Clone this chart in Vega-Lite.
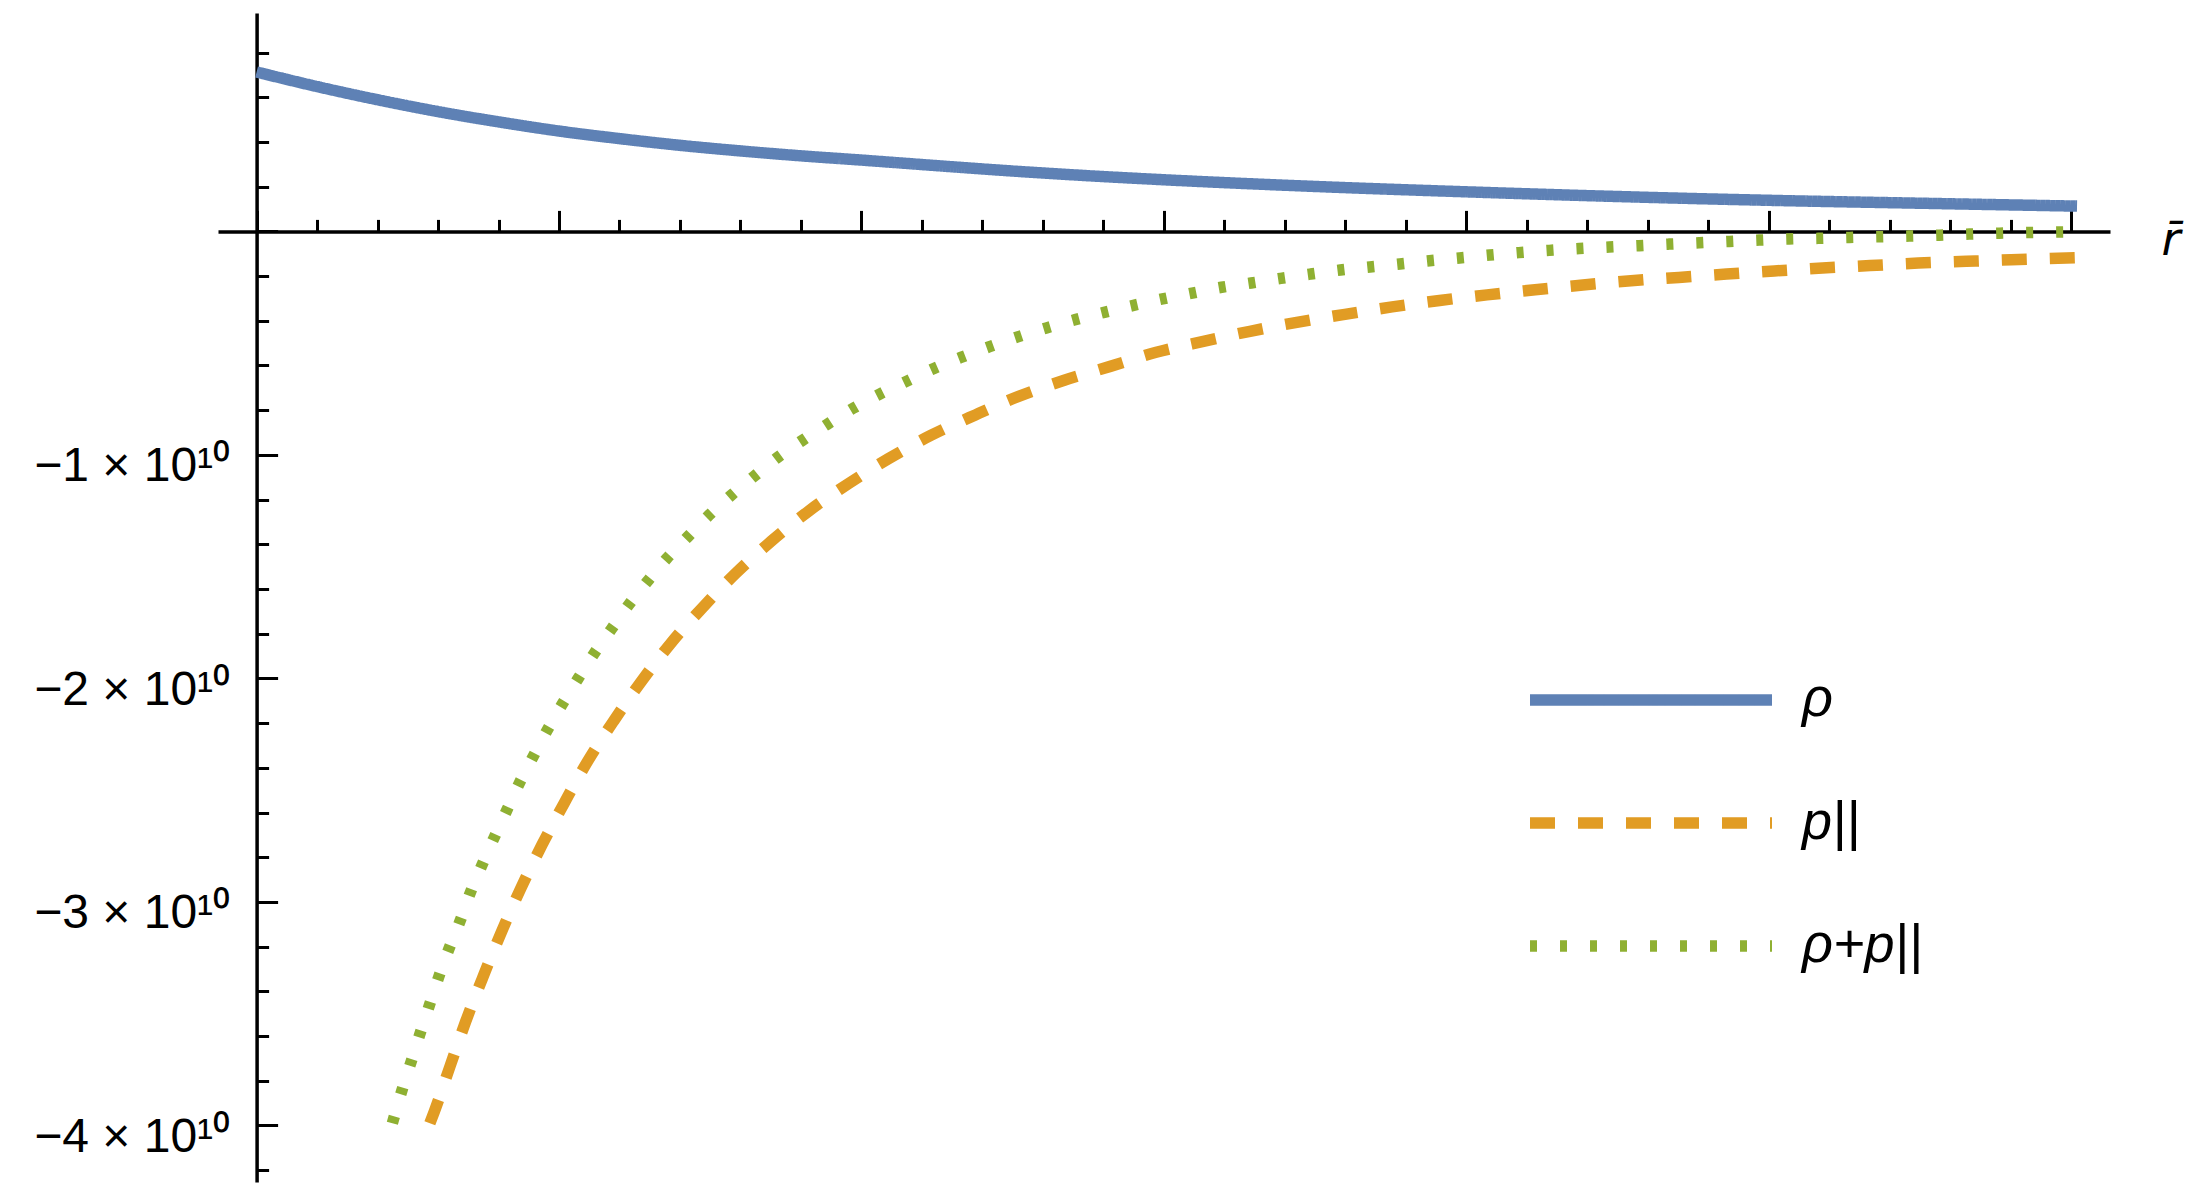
{
  "$schema": "https://vega.github.io/schema/vega-lite/v6.json",
  "width": 1892,
  "height": 1169,
  "autosize": {"type": "none"},
  "padding": {"left": 218, "top": 13, "right": 97, "bottom": 18},
  "background": "white",
  "config": {"view": {"stroke": null}, "font": "Liberation Sans"},
  "data": {"values": [
    {"series": "ρ", "r": 0, "value": 7.13e9},
    {"series": "ρ", "r": 0.2, "value": 6.48e9},
    {"series": "ρ", "r": 0.4, "value": 5.89e9},
    {"series": "ρ", "r": 0.6, "value": 5.36e9},
    {"series": "ρ", "r": 0.8, "value": 4.9e9},
    {"series": "ρ", "r": 1.0, "value": 4.49e9},
    {"series": "ρ", "r": 1.2, "value": 4.15e9},
    {"series": "ρ", "r": 1.4, "value": 3.85e9},
    {"series": "ρ", "r": 1.6, "value": 3.6e9},
    {"series": "ρ", "r": 1.8, "value": 3.38e9},
    {"series": "ρ", "r": 2.0, "value": 3.19e9},
    {"series": "ρ", "r": 2.25, "value": 2.94e9},
    {"series": "ρ", "r": 2.5, "value": 2.7e9},
    {"series": "ρ", "r": 2.75, "value": 2.49e9},
    {"series": "ρ", "r": 3.0, "value": 2.31e9},
    {"series": "ρ", "r": 3.5, "value": 2.01e9},
    {"series": "ρ", "r": 4.0, "value": 1.77e9},
    {"series": "ρ", "r": 4.5, "value": 1.56e9},
    {"series": "ρ", "r": 5.0, "value": 1.39e9},
    {"series": "ρ", "r": 5.5, "value": 1.26e9},
    {"series": "ρ", "r": 6.02, "value": 1.13e9},

    {"series": "p||", "r": 0.573, "value": -3.99e10},
    {"series": "p||", "r": 0.588, "value": -3.937e10},
    {"series": "p||", "r": 0.640, "value": -3.734e10},
    {"series": "p||", "r": 0.692, "value": -3.533e10},
    {"series": "p||", "r": 0.750, "value": -3.331e10},
    {"series": "p||", "r": 0.810, "value": -3.133e10},
    {"series": "p||", "r": 0.874, "value": -2.938e10},
    {"series": "p||", "r": 0.944, "value": -2.744e10},
    {"series": "p||", "r": 1.018, "value": -2.556e10},
    {"series": "p||", "r": 1.096, "value": -2.368e10},
    {"series": "p||", "r": 1.182, "value": -2.188e10},
    {"series": "p||", "r": 1.273, "value": -2.012e10},
    {"series": "p||", "r": 1.369, "value": -1.844e10},
    {"series": "p||", "r": 1.474, "value": -1.684e10},
    {"series": "p||", "r": 1.586, "value": -1.528e10},
    {"series": "p||", "r": 1.703, "value": -1.385e10},
    {"series": "p||", "r": 1.827, "value": -1.25e10},
    {"series": "p||", "r": 1.958, "value": -1.128e10},
    {"series": "p||", "r": 2.092, "value": -1.015e10},
    {"series": "p||", "r": 2.231, "value": -9.12e9},
    {"series": "p||", "r": 2.377, "value": -8.21e9},
    {"series": "p||", "r": 2.522, "value": -7.37e9},
    {"series": "p||", "r": 2.671, "value": -6.66e9},
    {"series": "p||", "r": 2.823, "value": -6.04e9},
    {"series": "p||", "r": 2.975, "value": -5.41e9},
    {"series": "p||", "r": 3.131, "value": -4.92e9},
    {"series": "p||", "r": 3.285, "value": -4.47e9},
    {"series": "p||", "r": 3.440, "value": -4.07e9},
    {"series": "p||", "r": 3.599, "value": -3.71e9},
    {"series": "p||", "r": 3.755, "value": -3.38e9},
    {"series": "p||", "r": 3.912, "value": -3.09e9},
    {"series": "p||", "r": 4.069, "value": -2.84e9},
    {"series": "p||", "r": 4.228, "value": -2.61e9},
    {"series": "p||", "r": 4.386, "value": -2.4e9},
    {"series": "p||", "r": 4.545, "value": -2.21e9},
    {"series": "p||", "r": 4.703, "value": -2.06e9},
    {"series": "p||", "r": 4.861, "value": -1.91e9},
    {"series": "p||", "r": 5.019, "value": -1.77e9},
    {"series": "p||", "r": 5.178, "value": -1.64e9},
    {"series": "p||", "r": 5.336, "value": -1.53e9},
    {"series": "p||", "r": 5.495, "value": -1.42e9},
    {"series": "p||", "r": 5.654, "value": -1.34e9},
    {"series": "p||", "r": 5.802, "value": -1.27e9},
    {"series": "p||", "r": 6.02, "value": -1.18e9},

    {"series": "ρ+p||", "r": 0.449, "value": -3.99e10},
    {"series": "ρ+p||", "r": 0.480, "value": -3.846e10},
    {"series": "ρ+p||", "r": 0.510, "value": -3.719e10},
    {"series": "ρ+p||", "r": 0.540, "value": -3.591e10},
    {"series": "ρ+p||", "r": 0.571, "value": -3.464e10},
    {"series": "ρ+p||", "r": 0.602, "value": -3.337e10},
    {"series": "ρ+p||", "r": 0.636, "value": -3.21e10},
    {"series": "ρ+p||", "r": 0.673, "value": -3.085e10},
    {"series": "ρ+p||", "r": 0.706, "value": -2.961e10},
    {"series": "ρ+p||", "r": 0.745, "value": -2.836e10},
    {"series": "ρ+p||", "r": 0.785, "value": -2.714e10},
    {"series": "ρ+p||", "r": 0.827, "value": -2.591e10},
    {"series": "ρ+p||", "r": 0.868, "value": -2.471e10},
    {"series": "ρ+p||", "r": 0.914, "value": -2.351e10},
    {"series": "ρ+p||", "r": 0.960, "value": -2.234e10},
    {"series": "ρ+p||", "r": 1.010, "value": -2.117e10},
    {"series": "ρ+p||", "r": 1.063, "value": -2.001e10},
    {"series": "ρ+p||", "r": 1.116, "value": -1.889e10},
    {"series": "ρ+p||", "r": 1.173, "value": -1.78e10},
    {"series": "ρ+p||", "r": 1.231, "value": -1.67e10},
    {"series": "ρ+p||", "r": 1.293, "value": -1.565e10},
    {"series": "ρ+p||", "r": 1.356, "value": -1.464e10},
    {"series": "ρ+p||", "r": 1.425, "value": -1.368e10},
    {"series": "ρ+p||", "r": 1.496, "value": -1.27e10},
    {"series": "ρ+p||", "r": 1.569, "value": -1.181e10},
    {"series": "ρ+p||", "r": 1.645, "value": -1.096e10},
    {"series": "ρ+p||", "r": 1.722, "value": -1.012e10},
    {"series": "ρ+p||", "r": 1.805, "value": -9.35e9},
    {"series": "ρ+p||", "r": 1.887, "value": -8.63e9},
    {"series": "ρ+p||", "r": 1.972, "value": -7.92e9},
    {"series": "ρ+p||", "r": 2.059, "value": -7.29e9},
    {"series": "ρ+p||", "r": 2.149, "value": -6.71e9},
    {"series": "ρ+p||", "r": 2.240, "value": -6.13e9},
    {"series": "ρ+p||", "r": 2.329, "value": -5.64e9},
    {"series": "ρ+p||", "r": 2.424, "value": -5.16e9},
    {"series": "ρ+p||", "r": 2.517, "value": -4.72e9},
    {"series": "ρ+p||", "r": 2.612, "value": -4.32e9},
    {"series": "ρ+p||", "r": 2.707, "value": -3.95e9},
    {"series": "ρ+p||", "r": 2.803, "value": -3.62e9},
    {"series": "ρ+p||", "r": 2.900, "value": -3.31e9},
    {"series": "ρ+p||", "r": 2.996, "value": -3.02e9},
    {"series": "ρ+p||", "r": 3.094, "value": -2.76e9},
    {"series": "ρ+p||", "r": 3.191, "value": -2.5e9},
    {"series": "ρ+p||", "r": 3.289, "value": -2.31e9},
    {"series": "ρ+p||", "r": 3.387, "value": -2.1e9},
    {"series": "ρ+p||", "r": 3.486, "value": -1.91e9},
    {"series": "ρ+p||", "r": 3.584, "value": -1.73e9},
    {"series": "ρ+p||", "r": 3.682, "value": -1.59e9},
    {"series": "ρ+p||", "r": 3.781, "value": -1.46e9},
    {"series": "ρ+p||", "r": 3.879, "value": -1.31e9},
    {"series": "ρ+p||", "r": 3.978, "value": -1.19e9},
    {"series": "ρ+p||", "r": 4.078, "value": -1.06e9},
    {"series": "ρ+p||", "r": 4.174, "value": -9.5e8},
    {"series": "ρ+p||", "r": 4.275, "value": -8.5e8},
    {"series": "ρ+p||", "r": 4.374, "value": -7.7e8},
    {"series": "ρ+p||", "r": 4.473, "value": -7.0e8},
    {"series": "ρ+p||", "r": 4.572, "value": -6.4e8},
    {"series": "ρ+p||", "r": 4.671, "value": -5.7e8},
    {"series": "ρ+p||", "r": 4.771, "value": -5.1e8},
    {"series": "ρ+p||", "r": 4.870, "value": -4.5e8},
    {"series": "ρ+p||", "r": 4.969, "value": -3.9e8},
    {"series": "ρ+p||", "r": 5.068, "value": -3.4e8},
    {"series": "ρ+p||", "r": 5.168, "value": -3.1e8},
    {"series": "ρ+p||", "r": 5.267, "value": -2.7e8},
    {"series": "ρ+p||", "r": 5.366, "value": -2.4e8},
    {"series": "ρ+p||", "r": 5.465, "value": -2.1e8},
    {"series": "ρ+p||", "r": 5.564, "value": -1.7e8},
    {"series": "ρ+p||", "r": 5.664, "value": -1.2e8},
    {"series": "ρ+p||", "r": 5.763, "value": -8e7},
    {"series": "ρ+p||", "r": 5.96, "value": -3e7},
    {"series": "ρ+p||", "r": 6.02, "value": -2e7}
  ]},
  "mark": {"type": "line", "interpolate": "monotone"},
  "encoding": {
    "x": {
      "field": "r", "type": "quantitative",
      "scale": {"domain": [-0.1276, 6.129], "nice": false, "zero": false},
      "axis": {
        "orient": "top", "offset": -218.4,
        "values": [0, 0.2, 0.4, 0.6, 0.8, 1, 1.2, 1.4, 1.6, 1.8, 2, 2.2, 2.4, 2.6, 2.8, 3, 3.2, 3.4, 3.6, 3.8, 4, 4.2, 4.4, 4.6, 4.8, 5, 5.2, 5.4, 5.6, 5.8, 6],
        "tickSize": {"condition": {"test": "abs(datum.value - round(datum.value)) < 0.001", "value": 21}, "value": 12},
        "tickColor": "black", "tickWidth": 3,
        "domainColor": "black", "domainWidth": 3.5,
        "labels": false, "grid": false,
        "title": "r̄", "titleFont": "DejaVu Sans", "titleFontStyle": "italic", "titleFontWeight": "normal",
        "titleFontSize": 46, "titleColor": "black",
        "titleX": 1943, "titleY": 22.6, "titleAlign": "left", "titleBaseline": "alphabetic", "titleAngle": 0
      }
    },
    "y": {
      "field": "value", "type": "quantitative",
      "scale": {"domain": [-42530000000, 9770000000], "nice": false, "zero": false},
      "axis": {
        "orient": "left", "offset": -38.6,
        "values": [-42000000000, -40000000000, -38000000000, -36000000000, -34000000000, -32000000000, -30000000000, -28000000000, -26000000000, -24000000000, -22000000000, -20000000000, -18000000000, -16000000000, -14000000000, -12000000000, -10000000000, -8000000000, -6000000000, -4000000000, -2000000000, 0, 2000000000, 4000000000, 6000000000, 8000000000],
        "tickSize": {"condition": {"test": "datum.value % 10000000000 === 0", "value": -21}, "value": -12},
        "tickColor": "black", "tickWidth": 3,
        "domainColor": "black", "domainWidth": 3.5,
        "grid": false, "title": null,
        "labelExpr": "datum.value < 0 && datum.value % 10000000000 === 0 ? '−' + (-datum.value / 10000000000) + ' × 10¹⁰' : ''",
        "labelFont": "Liberation Sans", "labelFontSize": 48, "labelColor": "black", "labelLimit": 0,
        "labelAlign": "right", "labelBaseline": "alphabetic", "labelOffset": 26, "labelPadding": 48,
        "labelOverlap": false, "labelFlush": false
      }
    },
    "color": {
      "field": "series", "type": "nominal",
      "scale": {"domain": ["ρ", "p||", "ρ+p||"], "range": ["#5E81B5", "#E19C24", "#8FB032"]},
      "legend": {
        "orient": "none", "legendX": 1306, "legendY": 657, "title": null,
        "symbolType": "stroke", "symbolSize": 58564, "symbolStrokeWidth": 11.5,
        "labelFont": "Liberation Sans", "labelFontSize": 54, "labelFontStyle": "italic", "labelColor": "black",
        "labelOffset": 24, "clipHeight": 60, "rowPadding": 63, "padding": 0
      }
    },
    "strokeDash": {
      "field": "series", "type": "nominal",
      "scale": {"domain": ["ρ", "p||", "ρ+p||"], "range": [[1, 0], [25, 23], [7, 23]]}
    },
    "strokeWidth": {"value": 11.5}
  }
}
